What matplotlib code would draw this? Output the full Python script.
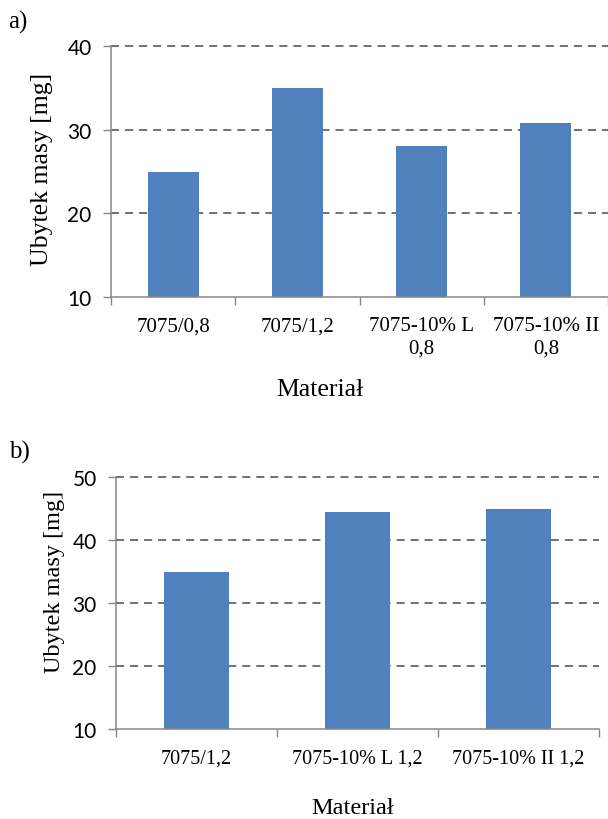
import matplotlib
matplotlib.use("Agg")
import matplotlib.pyplot as plt
import numpy as np

# panel a
labels_a = ["7075/0,8", "7075/1,2", "7075-10% L\n0,8", "7075-10% II\n0,8"]
values_a = [24.9, 35.0, 28.0, 30.8]
yticks_a = [10, 20, 30, 40]

# panel b
labels_b = ["7075/1,2", "7075-10% L 1,2", "7075-10% II 1,2"]
values_b = [35.0, 44.4, 45.0]
yticks_b = [10, 20, 30, 40, 50]

BAR = "#4F81BD"
AXC = "#868686"
GRID = "#4a4a4a"
SERIF = "Liberation Serif"
SANS = "Lato"

plt.rcParams["lines.scale_dashes"] = False

fig = plt.figure(figsize=(6.08, 8.20), dpi=100)
W, H = 608.0, 820.0


def make_axes(left, right, top, bottom):
    return fig.add_axes([left / W, 1 - bottom / H, (right - left) / W, (bottom - top) / H])


def style(ax, labels, values, yticks, width, tick_fs, lab_fs):
    n = len(values)
    x = np.arange(n)
    ax.bar(x, values, width=width, color=BAR, zorder=2)
    ax.set_xlim(-0.5, n - 0.5)
    ax.set_ylim(yticks[0], yticks[-1])
    ax.set_yticks(yticks)
    ax.set_yticklabels([str(v) for v in yticks], fontfamily=SANS, fontsize=15)
    ax.set_xticks(x)
    ax.set_xticklabels(labels, fontfamily=SERIF, fontsize=tick_fs, linespacing=1.25)
    ax.set_xticks(np.arange(n + 1) - 0.5, minor=True)
    ax.tick_params(axis="x", which="major", length=0, pad=14)
    ax.tick_params(axis="x", which="minor", length=6, width=1, color=AXC, direction="out")
    ax.tick_params(axis="y", length=6, width=1, color=AXC, direction="out", pad=8)
    for s in ["top", "right"]:
        ax.spines[s].set_visible(False)
    for s in ["left", "bottom"]:
        ax.spines[s].set_color(AXC)
        ax.spines[s].set_linewidth(1.1)
    ax.set_axisbelow(True)
    for v in yticks[1:]:
        ax.axhline(v, color=GRID, lw=1.1, dashes=(5.8, 4.3), zorder=1, clip_on=False)
    ax.set_ylabel("Ubytek masy [mg]", fontfamily=SERIF, fontsize=lab_fs)
    ax.set_xlabel("Materiał", fontfamily=SERIF, fontsize=lab_fs)


ax_a = make_axes(111, 608, 47, 298)
style(ax_a, labels_a, values_a, yticks_a, 0.41, 15, 18.5)
ax_a.yaxis.set_label_coords(-0.139, 0.514)
ax_a.xaxis.set_label_coords(0.42, -0.367)
ax_a.xaxis.label.set_va("center")
ax_a.yaxis.label.set_va("center")

ax_b = make_axes(116, 599, 478, 730)
style(ax_b, labels_b, values_b, yticks_b, 0.40, 14.5, 17.5)
ax_b.yaxis.set_label_coords(-0.127, 0.587)
ax_b.xaxis.set_label_coords(0.49, -0.31)
ax_b.xaxis.label.set_va("center")
ax_b.yaxis.label.set_va("center")

fig.text(18 / W, 1 - 22 / H, "a)", fontfamily=SERIF, fontsize=18, ha="center", va="center")
fig.text(19 / W, 1 - 452 / H, "b)", fontfamily=SERIF, fontsize=18, ha="center", va="center")

fig.savefig("out.png", dpi=100)
